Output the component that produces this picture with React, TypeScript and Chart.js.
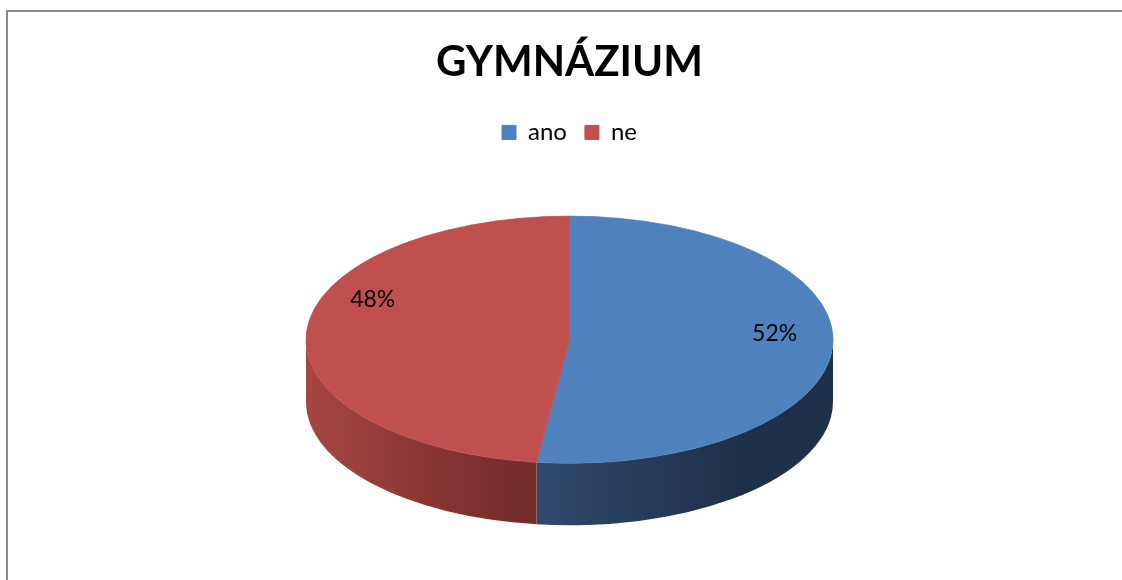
import React, { useEffect, useRef } from "react";
import { Chart, registerables } from "chart.js";

Chart.register(...registerables);

// ---- data ----
const TITLE = "GYMNÁZIUM";
const categories = ["ano", "ne"];
const values = [52, 48];

// ---- styles ----
const topColors = ["#4F81BD", "#C0504D"];
const sideLight = ["#30496D", "#A64642"];
const sideDark = ["#1F3149", "#772D2C"];
const FONT = "Lato, 'Open Sans', sans-serif";
const TILT = 0.469; // vertical squash of the pie (ry / rx)
const DEPTH = 62; // thickness of the 3D disc in px
const RADIUS = 263.5;
const SIDE_GRADIENT_SPAN = 200;
const LABEL_ANGLE_SHIFT_DEG = [-7, 20];
const LABEL_RADIUS_FRAC = [0.78, 0.815];

const pie3d = {
  id: "pie3d",
  beforeDatasetsDraw(chart: any) {
    const ctx = chart.ctx as CanvasRenderingContext2D;
    const arcs = chart.getDatasetMeta(0).data as any[];
    if (!arcs.length) return;
    const p0 = arcs[0].getProps(["x", "y", "outerRadius"], true);
    const cx = p0.x, cy = p0.y, r = p0.outerRadius;
    const ry = r * TILT;
    arcs.forEach((arc, i) => {
      const { startAngle, endAngle } = arc.getProps(["startAngle", "endAngle"], true);
      for (let k = -1; k <= 1; k++) {
        const lo = Math.max(startAngle, 2 * Math.PI * k);
        const hi = Math.min(endAngle, 2 * Math.PI * k + Math.PI);
        if (hi <= lo) continue;
        const xa = cx + r * Math.cos(lo);
        const xb = cx + r * Math.cos(hi);
        const x0 = Math.min(xa, xb);
        const g = ctx.createLinearGradient(x0, 0, x0 + SIDE_GRADIENT_SPAN, 0);
        g.addColorStop(0, sideLight[i % sideLight.length]);
        g.addColorStop(1, sideDark[i % sideDark.length]);
        ctx.save();
        ctx.beginPath();
        ctx.ellipse(cx, cy, r, ry, 0, lo, hi, false);
        ctx.ellipse(cx, cy + DEPTH, r, ry, 0, hi, lo, true);
        ctx.closePath();
        ctx.fillStyle = g;
        ctx.fill();
        ctx.restore();
      }
    });
    ctx.save();
    ctx.translate(cx, cy);
    ctx.scale(1, TILT);
    ctx.translate(-cx, -cy);
  },
  afterDatasetsDraw(chart: any) {
    const ctx = chart.ctx as CanvasRenderingContext2D;
    ctx.restore();
    const arcs = chart.getDatasetMeta(0).data as any[];
    const data = chart.data.datasets[0].data as number[];
    const total = data.reduce((a, b) => a + b, 0);
    ctx.save();
    ctx.font = `23px ${FONT}`;
    ctx.fillStyle = "#000";
    ctx.textAlign = "center";
    ctx.textBaseline = "middle";
    arcs.forEach((arc, i) => {
      const { x, y, startAngle, endAngle, outerRadius } = arc.getProps(
        ["x", "y", "startAngle", "endAngle", "outerRadius"],
        true
      );
      const mid = (startAngle + endAngle) / 2 + (LABEL_ANGLE_SHIFT_DEG[i] * Math.PI) / 180;
      const f = LABEL_RADIUS_FRAC[i];
      const lx = x + Math.cos(mid) * outerRadius * f;
      const ly = y + Math.sin(mid) * outerRadius * f * TILT;
      ctx.fillText(`${Math.round((data[i] / total) * 100)}%`, lx, ly);
    });
    ctx.restore();
  },
};

export default function App() {
  const ref = useRef<HTMLCanvasElement>(null);
  useEffect(() => {
    if (!ref.current) return;
    const chart = new Chart(ref.current, {
      type: "pie",
      data: {
        labels: categories,
        datasets: [
          {
            data: values,
            backgroundColor: topColors,
            borderColor: topColors,
            borderWidth: 1,
            clip: false as any,
          },
        ],
      },
      options: {
        responsive: false,
        animation: false,
        devicePixelRatio: 1,
        radius: RADIUS,
        layout: { padding: { left: 17, right: 0, top: 0, bottom: 55 } },
        plugins: {
          tooltip: { enabled: false },
          title: {
            display: true,
            text: TITLE,
            color: "#000",
            font: { family: FONT, size: 42, weight: "bold" },
            padding: { top: 37, bottom: 15 },
          },
          legend: {
            display: true,
            position: "top",
            labels: {
              color: "#000",
              boxWidth: 14,
              boxHeight: 14,
              padding: 18,
              font: { family: FONT, size: 24 },
            },
          },
        },
      } as any,
      plugins: [pie3d],
    });
    return () => chart.destroy();
  }, []);

  return (
    <div style={{ position: "absolute", left: 0, top: 0, width: 1122, height: 580, overflow: "hidden", background: "#fff" }}>
      <div
        style={{
          position: "absolute",
          left: 6,
          top: 10,
          width: 1116,
          height: 570,
          borderLeft: "2px solid #8a8a8a",
          borderTop: "2px solid #8a8a8a",
          boxSizing: "border-box",
        }}
      />
      <canvas ref={ref} width={1122} height={580} style={{ position: "absolute", left: 0, top: 0 }} />
    </div>
  );
}
